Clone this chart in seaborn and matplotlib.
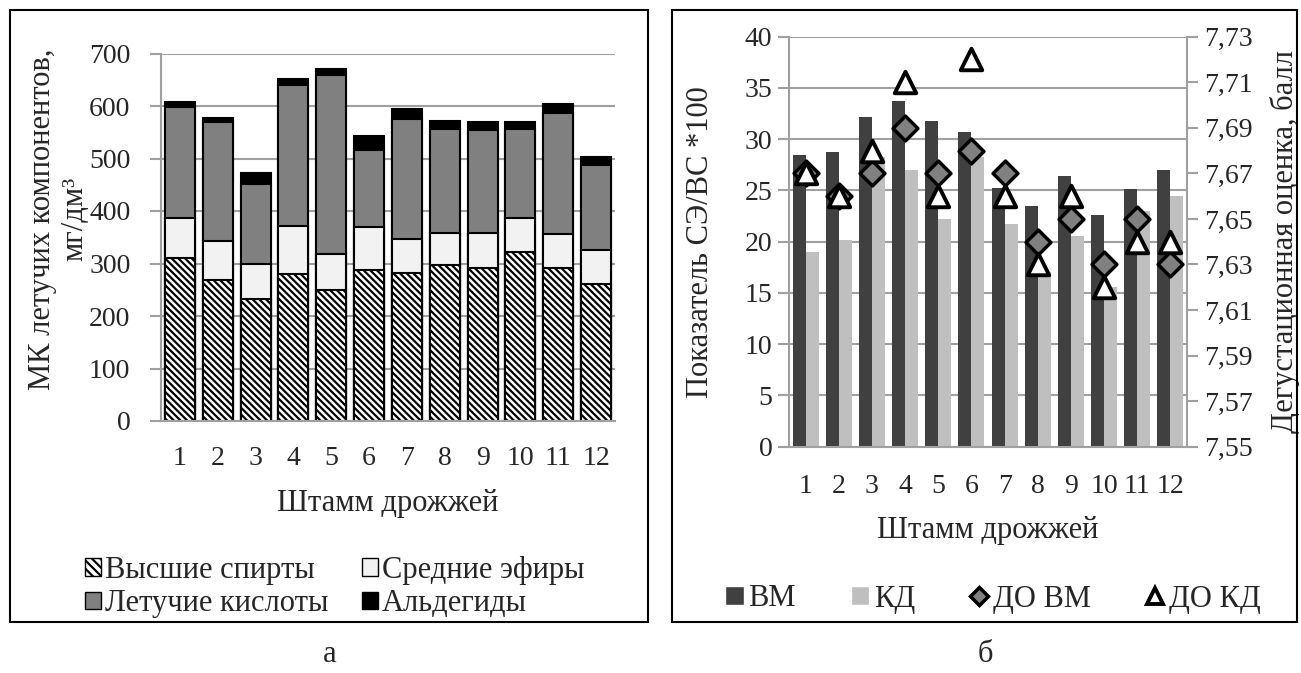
import numpy as np
import pandas as pd
import seaborn as sns
import matplotlib.pyplot as plt
from matplotlib.patches import Patch, Rectangle
from matplotlib.lines import Line2D
from matplotlib.ticker import FixedLocator

# ---- data, panel a (mg/dm3) ----
strains = [str(i) for i in range(1, 13)]
higher_alcohols = [310, 269, 232, 280, 250, 288, 281, 297, 291, 321, 292, 261]
esters = [77, 74, 68, 92, 68, 82, 66, 62, 68, 65, 65, 65]
volatile_acids = [212, 227, 151, 268, 342, 147, 229, 197, 195, 170, 229, 162]
aldehydes = [9, 8, 22, 11, 10, 26, 18, 15, 16, 14, 17, 14]

# ---- data, panel б ----
se_vs_vm = [28.5, 28.8, 32.2, 33.7, 31.75, 30.7, 25.2, 23.5, 26.4, 22.6, 25.1, 27.0]
se_vs_kd = [19.0, 20.2, 28.3, 27.0, 22.2, 28.3, 21.7, 17.0, 20.55, 15.6, 23.0, 24.5]
do_vm = [7.67, 7.66, 7.67, 7.69, 7.67, 7.68, 7.67, 7.64, 7.65, 7.63, 7.65, 7.63]
do_kd = [7.67, 7.66, 7.68, 7.71, 7.66, 7.72, 7.66, 7.63, 7.66, 7.62, 7.64, 7.64]

sns.set_style("white")
plt.rcParams['font.family'] = ['Liberation Serif', 'DejaVu Serif']
plt.rcParams['hatch.linewidth'] = 1.6
FS = 20      # tick labels
FL = 22      # axis labels, legends
GRID = '#a0a0a0'

W, H = 1301, 673
fig = plt.figure(figsize=(W / 100, H / 100), dpi=100)


def fx(px):
    return px / W


def fy(py):
    return 1 - py / H


def excel_axis(ax, n, ypad, xpad):
    ax.yaxis.grid(True, color=GRID, lw=1.5)
    ax.xaxis.grid(False)
    ax.set_axisbelow(True)
    for s in ['top', 'right']:
        ax.spines[s].set_visible(False)
    for s in ['left', 'bottom']:
        ax.spines[s].set_color(GRID)
        ax.spines[s].set_linewidth(1.5)
    ax.xaxis.set_minor_locator(FixedLocator(np.arange(-0.5, n, 1.0)))
    ax.tick_params(axis='x', which='major', length=0, pad=xpad, labelsize=FS)
    ax.tick_params(axis='x', which='minor', length=7, width=1.5, color=GRID, direction='out')
    ax.tick_params(axis='y', which='major', length=8, width=1.5, color=GRID, direction='out',
                   pad=ypad, labelsize=FS, left=True)
    ax.set_xlim(-0.5, n - 0.5)


# ================= panel a =================
ax1 = fig.add_axes([fx(161), fy(421), fx(615 - 161), (421 - 53.5) / H])
layers = [
    (np.array(higher_alcohols) + esters + np.array(volatile_acids) + aldehydes, 'black'),
    (np.array(higher_alcohols) + esters + np.array(volatile_acids), '#808080'),
    (np.array(higher_alcohols) + esters, '#f2f2f2'),
    (np.array(higher_alcohols), 'white'),
]
for cum, col in layers:
    sns.barplot(x=strains, y=cum, color=col, saturation=1, edgecolor='black',
                linewidth=1.5, width=0.79, ax=ax1, errorbar=None)
for p in ax1.containers[-1].patches:
    p.set_hatch('\\\\\\\\\\')
ax1.set_ylim(0, 700)
ax1.set_yticks(range(0, 701, 100))
excel_axis(ax1, len(strains), 14, 18)
ax1.set_xlabel('Штамм дрожжей', fontsize=FL, labelpad=13)
ax1.set_ylabel('МК летучих компонентов,\nмг/дм³', fontsize=FL, linespacing=1.15)
ax1.yaxis.set_label_coords((89 - 161) / 454, 0.55)

leg_a = [
    Patch(facecolor='white', edgecolor='black', hatch='\\\\\\\\', label='Высшие спирты'),
    Patch(facecolor='#808080', edgecolor='black', label='Летучие кислоты'),
    Patch(facecolor='#f2f2f2', edgecolor='black', label='Средние эфиры'),
    Patch(facecolor='black', edgecolor='black', label='Альдегиды'),
]
fig.legend(handles=leg_a, loc='center', bbox_to_anchor=(fx(335), fy(587)), ncol=2,
           frameon=False, fontsize=FL, handlelength=0.5, handleheight=0.5,
           handletextpad=0.15, columnspacing=1.1, labelspacing=0.15)

# ================= panel б =================
ax2 = fig.add_axes([fx(789), fy(446.7), fx(1187 - 789), 410 / H])
df = pd.DataFrame({
    'strain': strains * 2,
    'series': ['ВМ'] * len(strains) + ['КД'] * len(strains),
    'value': se_vs_vm + se_vs_kd,
})
sns.barplot(data=df, x='strain', y='value', hue='series',
            palette={'ВМ': '#404040', 'КД': '#bfbfbf'}, saturation=1,
            width=0.78, gap=0, linewidth=0, legend=False, ax=ax2, errorbar=None)
ax2.set_ylim(0, 40)
ax2.set_yticks(range(0, 41, 5))
excel_axis(ax2, len(strains), 4, 20)
ax2.set_xlabel('Штамм дрожжей', fontsize=FL, labelpad=12)
ax2.set_ylabel('Показатель СЭ/ВС *100', fontsize=FL)
ax2.yaxis.set_label_coords((715 - 789) / 398, 0.5)

ax3 = ax2.twinx()
pos = np.arange(len(strains))
sns.scatterplot(x=pos, y=do_vm, marker='D', s=160, color='#808080', edgecolor='black',
                linewidth=2.5, ax=ax3, zorder=5)
sns.scatterplot(x=pos, y=do_kd, marker='^', s=240, color='white', edgecolor='black',
                linewidth=2.8, ax=ax3, zorder=6)
ax3.set_ylim(7.55, 7.73)
rticks = np.round(np.arange(7.55, 7.7301, 0.02), 2)
ax3.set_yticks(rticks)
ax3.set_yticklabels([f'{t:.2f}'.replace('.', ',') for t in rticks])
for s in ['top', 'left', 'bottom']:
    ax3.spines[s].set_visible(False)
ax3.spines['right'].set_color(GRID)
ax3.spines['right'].set_linewidth(1.5)
ax3.tick_params(axis='y', length=8, width=1.5, color=GRID, direction='out', pad=4, labelsize=FS)
ax3.set_xlim(-0.5, len(strains) - 0.5)
ax3.set_ylabel('Дегустационная оценка, балл', fontsize=FL)
ax3.yaxis.set_label_coords((1270 - 789) / 398, 0.5)

leg_b = [
    Patch(facecolor='#404040', label='ВМ'),
    Patch(facecolor='#bfbfbf', label='КД'),
    Line2D([], [], ls='none', marker='D', ms=9, mfc='#808080', mec='black', mew=2.5, label='ДО ВМ'),
    Line2D([], [], ls='none', marker='^', ms=11, mfc='white', mec='black', mew=2.8, label='ДО КД'),
]
fig.legend(handles=leg_b, loc='center', bbox_to_anchor=(fx(993), fy(599)), ncol=4,
           frameon=False, fontsize=FL, handlelength=0.6, handleheight=0.6,
           handletextpad=0.15, columnspacing=1.8)

# frames and panel letters
fig.add_artist(Rectangle((fx(10), fy(622)), fx(648 - 10), (622 - 10) / H,
                         transform=fig.transFigure, fill=False, ec='black', lw=1.5))
fig.add_artist(Rectangle((fx(672), fy(622)), fx(1297 - 672), (622 - 10) / H,
                         transform=fig.transFigure, fill=False, ec='black', lw=1.5))
fig.text(fx(330), fy(655), 'а', fontsize=FL, ha='center', va='center')
fig.text(fx(985), fy(655), 'б', fontsize=FL, ha='center', va='center')

fig.savefig('out.png', dpi=100)
